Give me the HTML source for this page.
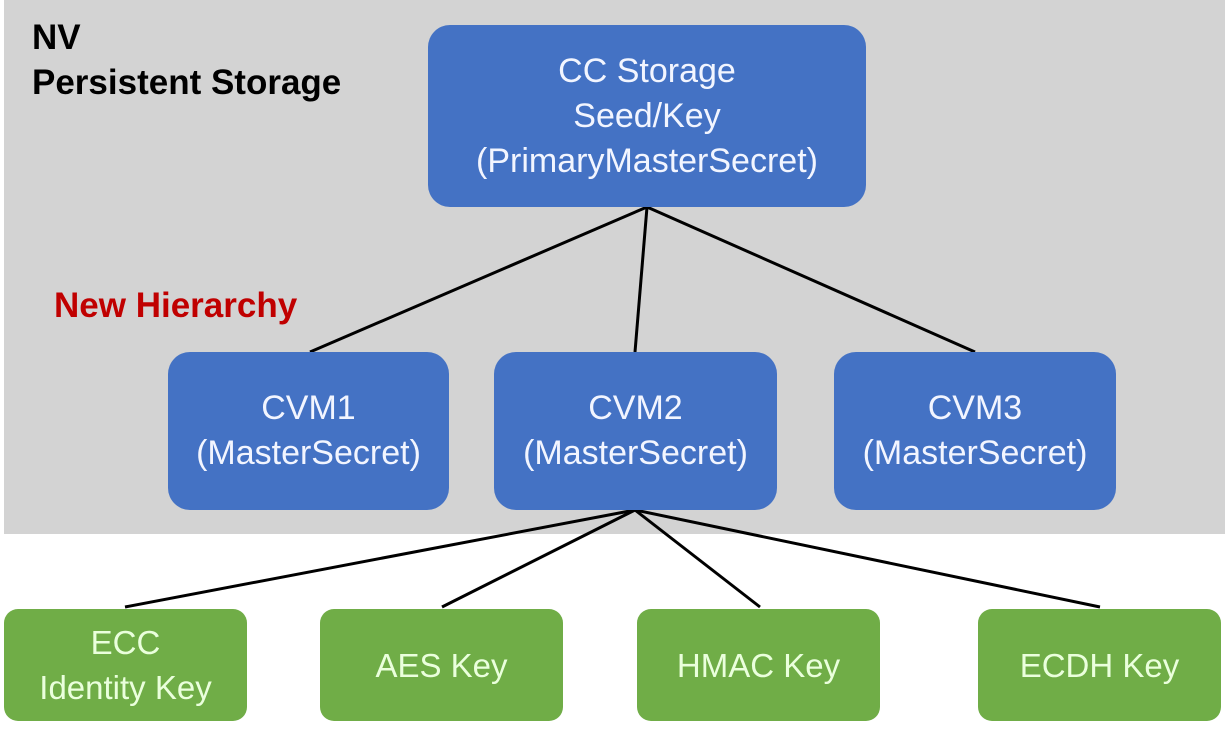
<!DOCTYPE html>
<html><head><style>
body{margin:0;width:1225px;height:733px;background:#fff;position:relative;overflow:hidden;font-family:"Liberation Sans","DejaVu Sans",sans-serif}
.bg{position:absolute;left:4px;top:0;width:1221px;height:534px;background:#d3d3d3}
.b{position:absolute;display:flex;align-items:center;justify-content:center;text-align:center;color:#f2f5ff;font-size:34px;line-height:45px;border-radius:22px}
.bl{background:#4472c4}
.g{background:#70ad47;color:#eaffdc;border-radius:14px;font-size:33px}
.t{position:absolute;font-weight:bold;font-size:35px}
svg{position:absolute;left:0;top:0}
</style></head><body>
<div class="bg"></div>
<div class="t" style="left:32px;top:15px;line-height:45px">NV<br>Persistent Storage</div>
<div class="t" style="left:54px;top:286px;color:#c00000">New Hierarchy</div>
<svg width="1225" height="733"><g stroke="#000" stroke-width="3">
<line x1="647" y1="207" x2="310" y2="352"/><line x1="647" y1="207" x2="635" y2="352"/><line x1="647" y1="207" x2="975" y2="352"/>
<line x1="635" y1="510" x2="125" y2="607"/><line x1="635" y1="510" x2="442" y2="607"/><line x1="635" y1="510" x2="760" y2="607"/><line x1="635" y1="510" x2="1100" y2="607"/>
</g></svg>
<div class="b bl" style="left:428px;top:25px;width:438px;height:182px">CC Storage<br>Seed/Key<br>(PrimaryMasterSecret)</div>
<div class="b bl" style="left:168px;top:352px;width:281px;height:158px">CVM1<br>(MasterSecret)</div>
<div class="b bl" style="left:494px;top:352px;width:283px;height:158px">CVM2<br>(MasterSecret)</div>
<div class="b bl" style="left:834px;top:352px;width:282px;height:158px">CVM3<br>(MasterSecret)</div>
<div class="b g" style="left:4px;top:609px;width:243px;height:112px">ECC<br>Identity Key</div>
<div class="b g" style="left:320px;top:609px;width:243px;height:112px">AES Key</div>
<div class="b g" style="left:637px;top:609px;width:243px;height:112px">HMAC Key</div>
<div class="b g" style="left:978px;top:609px;width:243px;height:112px">ECDH Key</div>
</body></html>
